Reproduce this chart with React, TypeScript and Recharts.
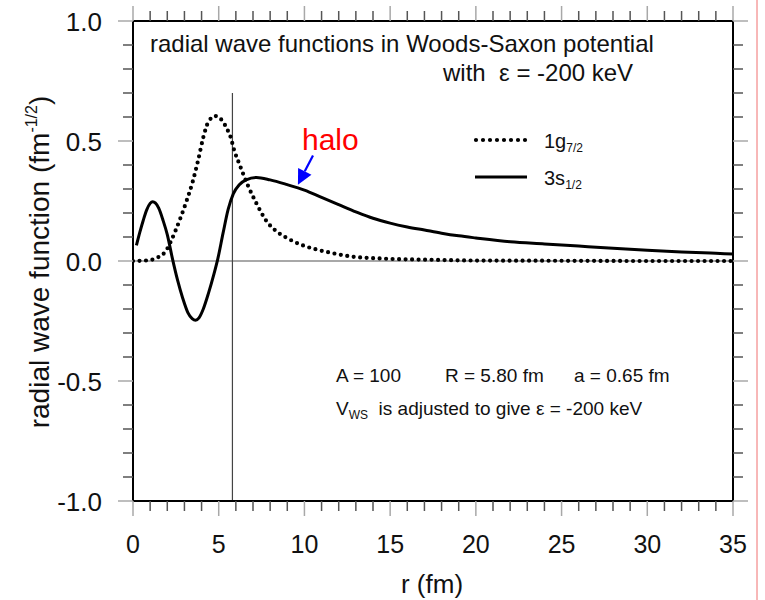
import { LineChart, Line, XAxis, YAxis, ReferenceLine } from "recharts";

// 3s1/2 halo state (solid)
const R_3S = [0.2, 0.4, 0.6, 0.8, 1.0, 1.15, 1.3, 1.5, 1.75, 2.0, 2.3, 2.6, 2.9, 3.2, 3.45, 3.65, 3.85, 4.1, 4.4, 4.7, 4.95, 5.25, 5.55, 5.85, 6.2, 6.6, 7.2, 8.0, 9.0, 10, 11, 12, 13, 14, 15, 16, 17, 18, 19, 20, 22, 24, 26, 28, 30, 32, 34, 35];
const PSI_3S = [0.065, 0.12, 0.17, 0.213, 0.24, 0.247, 0.242, 0.22, 0.17, 0.11, 0.01, -0.08, -0.155, -0.215, -0.24, -0.247, -0.237, -0.2, -0.135, -0.06, 0.01, 0.115, 0.215, 0.28, 0.318, 0.338, 0.348, 0.338, 0.318, 0.295, 0.265, 0.235, 0.205, 0.178, 0.158, 0.142, 0.129, 0.116, 0.105, 0.096, 0.08, 0.071, 0.062, 0.053, 0.045, 0.038, 0.032, 0.029];

// 1g7/2 state (dotted)
const R_1G = [0, 0.5, 1.0, 1.5, 1.9, 2.2, 2.5, 2.8, 3.1, 3.5, 3.8, 4.1, 4.4, 4.8, 5.2, 5.5, 5.7, 5.9, 6.2, 6.7, 7.2, 7.8, 8.4, 9.0, 9.8, 10.7, 11.5, 12.7, 14.6, 17.5, 20, 25, 30, 35];
const PSI_1G = [0, 0.001, 0.004, 0.017, 0.04, 0.08, 0.13, 0.185, 0.245, 0.335, 0.42, 0.515, 0.58, 0.604, 0.585, 0.548, 0.515, 0.462, 0.405, 0.315, 0.24, 0.165, 0.122, 0.095, 0.068, 0.048, 0.035, 0.019, 0.01, 0.005, 0.002, 0.001, 0, 0];

const X_TICKS = [0, 1, 2, 3, 4, 5, 6, 7, 8, 9, 10, 11, 12, 13, 14, 15, 16, 17, 18, 19, 20, 21, 22, 23, 24, 25, 26, 27, 28, 29, 30, 31, 32, 33, 34, 35];
const Y_TICKS = [-1, -0.9, -0.8, -0.7, -0.6, -0.5, -0.4, -0.3, -0.2, -0.1, 0, 0.1, 0.2, 0.3, 0.4, 0.5, 0.6, 0.7, 0.8, 0.9, 1];

const R_WS = 5.8; // Woods-Saxon radius marker
const HALO_ARROW = [
  { x: 10.5, y: 0.44 },
  { x: 9.62, y: 0.318 },
];

const data3s = R_3S.map((r, i) => ({ r, psi: PSI_3S[i] }));
const data1g = R_1G.map((r, i) => ({ r, psi: PSI_1G[i] }));

const FONT = '"Liberation Sans", Arial, Helvetica, sans-serif';
const MAJOR = "#a8a8a8";
const MINOR = "#555";
const TXT = "#111";

const isMajorX = (v: number) => v % 5 === 0;
const isMajorY = (v: number) => Math.abs(v * 2 - Math.round(v * 2)) < 1e-6;

const BottomTick = ({ x, y, payload }: any) => {
  const major = isMajorX(payload.value);
  return (
    <g>
      <line x1={x} x2={x} y1={y} y2={y + (major ? 15 : 10)} stroke={major ? MAJOR : MINOR} strokeWidth={1.5} />
      {major && (
        <text x={x} y={y + 52} textAnchor="middle" fontSize={25} fill={TXT} fontFamily={FONT}>
          {payload.value}
        </text>
      )}
    </g>
  );
};

const TopTick = ({ x, y, payload }: any) => {
  const major = isMajorX(payload.value);
  return <line x1={x} x2={x} y1={y} y2={y - (major ? 15 : 10)} stroke={major ? MAJOR : MINOR} strokeWidth={1.5} />;
};

const LeftTick = ({ x, y, payload }: any) => {
  const major = isMajorY(payload.value);
  return (
    <g>
      <line x1={x} x2={x - (major ? 15 : 10)} y1={y} y2={y} stroke={major ? MAJOR : MINOR} strokeWidth={1.5} />
      {major && (
        <text x={x - 31} y={y + 10} textAnchor="end" fontSize={26} fill={TXT} fontFamily={FONT}>
          {payload.value.toFixed(1)}
        </text>
      )}
    </g>
  );
};

const RightTick = ({ x, y, payload }: any) => {
  const major = isMajorY(payload.value);
  return <line x1={x} x2={x + (major ? 15 : 10)} y1={y} y2={y} stroke={major ? MAJOR : MINOR} strokeWidth={1.5} />;
};

const Arrow = (p: any) => {
  const { x1, y1, x2, y2 } = p;
  const dx = x2 - x1;
  const dy = y2 - y1;
  const len = Math.hypot(dx, dy) || 1;
  const ux = dx / len;
  const uy = dy / len;
  const hl = 15;
  const hw = 7.5;
  const bx = x2 - ux * hl;
  const by = y2 - uy * hl;
  return (
    <g>
      <line x1={x1} y1={y1} x2={bx} y2={by} stroke="#0000ff" strokeWidth={2.2} />
      <polygon points={`${x2},${y2} ${bx - uy * hw},${by + ux * hw} ${bx + uy * hw},${by - ux * hw}`} fill="#0000ff" />
    </g>
  );
};

export default function App() {
  return (
    <div style={{ position: "absolute", left: 0, top: 0, width: 765, height: 600, background: "#fff" }}>
      <LineChart width={765} height={600} margin={{ top: 20, right: 31, left: 0, bottom: 0 }}>
        <XAxis
          xAxisId="b"
          dataKey="r"
          type="number"
          domain={[0, 35]}
          ticks={X_TICKS}
          interval={0}
          height={99}
          tickSize={0}
          tickMargin={0}
          tickLine={false}
          tick={BottomTick}
          axisLine={{ stroke: "#000", strokeWidth: 2 }}
          allowDataOverflow
        />
        <XAxis
          xAxisId="t"
          orientation="top"
          dataKey="r"
          type="number"
          domain={[0, 35]}
          ticks={X_TICKS}
          interval={0}
          height={1}
          tickSize={0}
          tickMargin={0}
          tickLine={false}
          tick={TopTick}
          axisLine={{ stroke: "#000", strokeWidth: 2 }}
          allowDataOverflow
        />
        <YAxis
          yAxisId="l"
          type="number"
          domain={[-1, 1]}
          ticks={Y_TICKS}
          interval={0}
          width={133}
          tickSize={0}
          tickMargin={0}
          tickLine={false}
          tick={LeftTick}
          axisLine={{ stroke: "#000", strokeWidth: 2 }}
          allowDataOverflow
        />
        <YAxis
          yAxisId="r"
          orientation="right"
          type="number"
          domain={[-1, 1]}
          ticks={Y_TICKS}
          interval={0}
          width={1}
          tickSize={0}
          tickMargin={0}
          tickLine={false}
          tick={RightTick}
          axisLine={{ stroke: "#000", strokeWidth: 2 }}
          allowDataOverflow
        />

        <ReferenceLine xAxisId="b" yAxisId="l" y={0} stroke={MAJOR} strokeWidth={2} />
        <ReferenceLine
          xAxisId="b"
          yAxisId="l"
          segment={[
            { x: R_WS, y: -1 },
            { x: R_WS, y: 0.7 },
          ]}
          stroke="#444"
          strokeWidth={1.2}
        />

        <Line
          xAxisId="b"
          yAxisId="l"
          data={data1g}
          dataKey="psi"
          type="monotone"
          stroke="#000"
          strokeWidth={4.2}
          strokeDasharray="0 6.5"
          strokeLinecap="round"
          dot={false}
          activeDot={false}
          isAnimationActive={false}
        />
        <Line
          xAxisId="b"
          yAxisId="l"
          data={data3s}
          dataKey="psi"
          type="monotone"
          stroke="#000"
          strokeWidth={3}
          dot={false}
          activeDot={false}
          isAnimationActive={false}
        />

        <ReferenceLine xAxisId="b" yAxisId="l" segment={HALO_ARROW} shape={Arrow} />

        {/* titles and annotations */}
        <text x={150} y={52} fontSize={24} fill={TXT} fontFamily={FONT}>
          radial wave functions in Woods-Saxon potential
        </text>
        <text x={443} y={81} fontSize={24} fill={TXT} fontFamily={FONT}>
          {"with\u00a0\u00a0ε = -200 keV"}
        </text>
        <text x={302} y={150} fontSize={30} fill="#ff0000" fontFamily={FONT}>
          halo
        </text>

        {/* legend */}
        <line x1={476} x2={526} y1={140} y2={140} stroke="#000" strokeWidth={4.2} strokeDasharray="0 7" strokeLinecap="round" />
        <text x={544} y={148} fontSize={20} fill={TXT} fontFamily={FONT}>
          1g<tspan fontSize={12} dy={4}>7/2</tspan>
        </text>
        <line x1={475} x2={527} y1={177} y2={177} stroke="#000" strokeWidth={3} />
        <text x={544} y={185} fontSize={20} fill={TXT} fontFamily={FONT}>
          3s<tspan fontSize={12} dy={4}>1/2</tspan>
        </text>

        <text x={336} y={382} fontSize={19} fill={TXT} fontFamily={FONT}>A = 100</text>
        <text x={445} y={382} fontSize={19} fill={TXT} fontFamily={FONT}>R = 5.80 fm</text>
        <text x={574} y={382} fontSize={19} fill={TXT} fontFamily={FONT}>a = 0.65 fm</text>
        <text x={336} y={415} fontSize={19} fill={TXT} fontFamily={FONT}>
          V<tspan fontSize={12} dy={4}>WS</tspan>
          <tspan dy={-4}>{"\u00a0\u00a0is adjusted to give ε = -200 keV"}</tspan>
        </text>

        {/* axis titles */}
        <text x={432} y={593} textAnchor="middle" fontSize={26} fill={TXT} fontFamily={FONT}>
          r (fm)
        </text>
        <text
          x={49}
          y={262}
          textAnchor="middle"
          fontSize={28}
          fill={TXT}
          fontFamily={FONT}
          transform="rotate(-90, 49, 262)"
        >
          radial wave function (fm<tspan fontSize={16} dy={-12}>-1/2</tspan>
          <tspan dy={12}>)</tspan>
        </text>

        <line x1={757} x2={757} y1={0} y2={600} stroke="#f07070" strokeWidth={1} />
      </LineChart>
    </div>
  );
}
